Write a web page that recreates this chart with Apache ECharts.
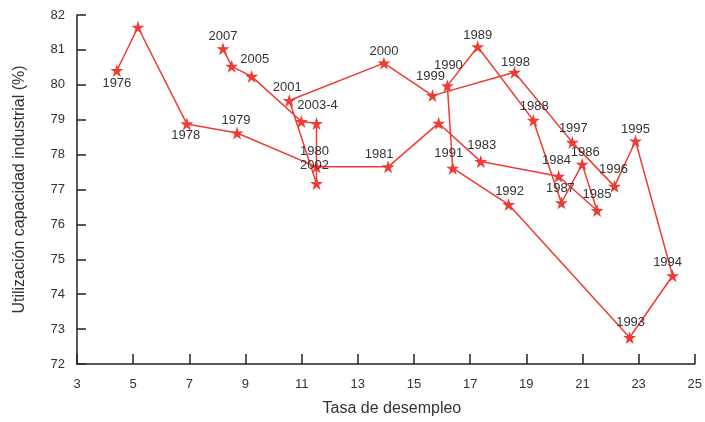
<!DOCTYPE html>
<html>
<head>
<meta charset="utf-8">
<script src="https://cdn.jsdelivr.net/npm/echarts@6/dist/echarts.min.js"></script>
<style>html,body{margin:0;padding:0;background:#fff}#c{width:705px;height:422px}</style>
</head>
<body>
<div id="c"></div>
<script>
// Data: Spain, unemployment rate vs industrial capacity utilization
var years = [1976,1977,1978,1979,1980,1981,1982,1983,1984,1985,1986,1987,1988,1989,1990,1991,1992,1993,1994,1995,1996,1997,1998,1999,2000,2001,2002,2003,2004,2005,2006,2007];
var unemployment = [4.42,5.17,6.91,8.70,11.53,14.08,15.88,17.38,20.15,21.52,20.99,20.25,19.25,17.27,16.19,16.38,18.37,22.68,24.21,22.89,22.14,20.64,18.58,15.66,13.93,10.56,11.53,11.53,10.99,9.22,8.51,8.20];
var capacity = [80.41,81.65,78.88,78.62,77.65,77.65,78.90,77.80,77.38,76.40,77.72,76.62,78.98,81.09,79.97,77.61,76.57,72.76,74.53,78.39,77.09,78.35,80.36,79.69,80.62,79.55,77.17,78.89,78.95,80.24,80.53,81.03];
var pointLabels = ["1976","","1978","1979","1980","1981","","1983","1984","1985","1986","1987","1988","1989","1990","1991","1992","1993","1994","1995","1996","1997","1998","1999","2000","2001","2002","2003-4","","2005","","2007"];
var xTicks = {min: 3, max: 25, step: 2};
var yTicks = {min: 72, max: 82, step: 1};

// label placement (pixel offsets of label centre from its point)
var labelOffset = {
  1976:[0,13],1978:[-1,12],1979:[-1,-13],1980:[-2,-15],1981:[-9,-12],1983:[1,-16],
  1984:[-2,-16],1985:[0,-16],1986:[3,-12],1987:[-1,-14],1988:[1,-14],1989:[0,-11],
  1990:[1,-20],1991:[-4,-15],1992:[1,-13],1993:[1,-15],1994:[-5,-13],1995:[0,-12],
  1996:[-1,-17],1997:[1,-14],1998:[1,-10],1999:[-2,-19],2000:[0,-12],2001:[-2,-13],
  2002:[-2,-18],2003:[1,-18],2005:[3,-17],2007:[0,-12]
};

var FONT = 'Liberation Sans, Arial, Helvetica, sans-serif';
var RED = '#ee3b33';
var TXT = '#333333';
var SYM = 13;

var seriesData = years.map(function(y, i){
  var off = labelOffset[y] || [0,0];
  return {
    value: [unemployment[i], capacity[i]],
    label: {
      show: pointLabels[i] !== '',
      formatter: pointLabels[i],
      position: [SYM / 2 + off[0], SYM / 2 + off[1]],
      align: 'center',
      verticalAlign: 'middle'
    }
  };
});

var chart = echarts.init(document.getElementById('c'), null, {renderer:'canvas'});
chart.setOption({
  animation: false,
  backgroundColor: '#ffffff',
  grid: {left: 77, right: 8, top: 15, bottom: 56, containLabel: false},
  xAxis: {
    type: 'value', min: xTicks.min, max: xTicks.max, interval: xTicks.step,
    name: 'Tasa de desempleo', nameLocation: 'middle', nameGap: 37,
    nameTextStyle: {fontFamily: FONT, fontSize: 16, color: TXT, padding: [0, 0, 0, 12]},
    axisLine: {show: true, onZero: false, lineStyle: {color: '#222', width: 1.5}},
    axisTick: {show: true, inside: true, length: 10, lineStyle: {color: '#222', width: 1.5}},
    axisLabel: {fontFamily: FONT, fontSize: 13, color: TXT, margin: 14},
    splitLine: {show: false}
  },
  yAxis: {
    type: 'value', min: yTicks.min, max: yTicks.max, interval: yTicks.step,
    name: 'Utilización capacidad industrial (%)', nameLocation: 'middle', nameGap: 49,
    nameTextStyle: {fontFamily: FONT, fontSize: 16, color: TXT},
    axisLine: {show: true, onZero: false, lineStyle: {color: '#222', width: 1.5}},
    axisTick: {show: true, inside: true, length: 9, lineStyle: {color: '#222', width: 1.5}},
    axisLabel: {fontFamily: FONT, fontSize: 13, color: TXT, margin: 12},
    splitLine: {show: false}
  },
  series: [{
    type: 'line',
    data: seriesData,
    symbol: 'path://M50,0 L61.8,36.2 L100,36.2 L69.1,58.5 L80.9,95.1 L50,72.7 L19.1,95.1 L30.9,58.5 L0,36.2 L38.2,36.2 Z',
    symbolSize: SYM,
    showAllSymbol: true,
    itemStyle: {color: RED},
    lineStyle: {color: RED, width: 1.5},
    label: {fontFamily: FONT, fontSize: 13, color: TXT},
    labelLayout: {hideOverlap: false},
    z: 2
  }]
});
</script>
</body>
</html>
